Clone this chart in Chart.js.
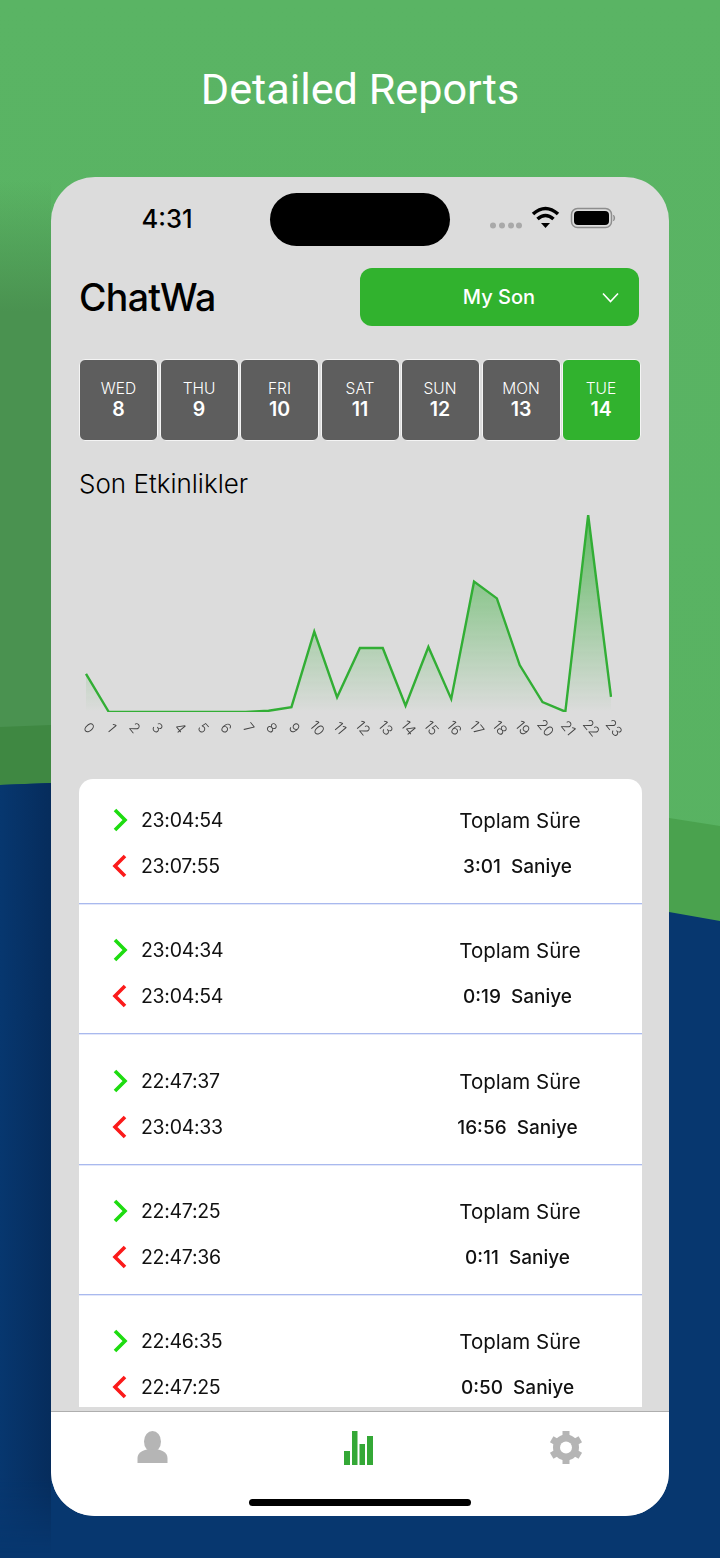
<!DOCTYPE html>
<html>
<head>
<meta charset="utf-8">
<script src="https://cdn.jsdelivr.net/npm/chart.js@4"></script>
<style>
  html, body { margin: 0; padding: 0; width: 720px; height: 1558px; overflow: hidden; background: #07376f; }
  #page { position: relative; width: 720px; height: 1558px; overflow: hidden; font-family: Inter, sans-serif; }
  #page > svg { position: absolute; left: 0; top: 0; }
  .txt { position: absolute; white-space: pre; line-height: 1; }
  .mid { transform: translate(-50%, -50%); }
  .left { transform: translateY(-50%); }
  #title { left: 360px; top: 89px; font: 400 43.2px Roboto, sans-serif; color: #fff; }
  #phone { position: absolute; left: 51px; top: 177px; width: 618px; height: 1339px; background: #dcdcdc; border-radius: 44px; overflow: hidden; }
  #notch { position: absolute; left: 270px; top: 193px; width: 180px; height: 53px; background: #000; border-radius: 27px; }
  #picker { position: absolute; left: 360px; top: 268px; width: 279px; height: 58px; background: #31b22e; border-radius: 12px; }
  .day { position: absolute; top: 359px; height: 80px; background: #5e5e5e; border: 1px solid #f4f4f4; border-radius: 6px; }
  .day.on { background: #31b22e; }
  #card { position: absolute; left: 79px; top: 779px; width: 563px; height: 628px; background: #fff; border-radius: 14px 14px 0 0; }
  .sep { position: absolute; left: 79px; width: 563px; height: 1px; background: #a9b9ee; box-shadow: 0 1px 0 #e2e7fa; }
  #tabs { position: absolute; left: 51px; top: 1411px; width: 618px; height: 105px; background: #fff; border-top: 1.5px solid #aeaeae; box-sizing: border-box; border-radius: 0 0 44px 44px; }
  #home { position: absolute; left: 249px; top: 1499px; width: 222px; height: 7px; background: #000; border-radius: 4px; }
  #chartBox { position: absolute; left: 60px; top: 500px; width: 580px; height: 250px; }
</style>
</head>
<body>
<div id="page">
  <svg width="720" height="1558">
    <defs>
      <linearGradient id="bgGreen" x1="0" y1="0" x2="0" y2="1">
        <stop offset="0" stop-color="#5ab464"/>
        <stop offset="1" stop-color="#57b160"/>
      </linearGradient>
      <linearGradient id="shadeDown" x1="0" y1="0" x2="0" y2="1">
        <stop offset="0" stop-color="#4a9250" stop-opacity="0"/>
        <stop offset="0.24" stop-color="#4a9250" stop-opacity="1"/>
        <stop offset="1" stop-color="#4a9250" stop-opacity="1"/>
      </linearGradient>
      <linearGradient id="navyEdge" x1="0" y1="0" x2="1" y2="0">
        <stop offset="0" stop-color="#07376f"/>
        <stop offset="1" stop-color="#062c5c"/>
      </linearGradient>
      <linearGradient id="fadeOut" x1="0" y1="0" x2="0" y2="1">
        <stop offset="0" stop-color="#fff"/>
        <stop offset="0.9" stop-color="#fff"/>
        <stop offset="1" stop-color="#000"/>
      </linearGradient>
      <mask id="navyMask" maskUnits="userSpaceOnUse" x="0" y="783" width="51" height="770">
        <rect x="0" y="783" width="51" height="770" fill="url(#fadeOut)"/>
      </mask>
    </defs>
    <rect width="720" height="1558" fill="url(#bgGreen)"/>
    <rect x="0" y="180" width="51" height="550" fill="url(#shadeDown)"/>
    <polygon points="0,727 51,725 51,790 0,790" fill="#3f8842"/>
    <polygon points="669,818 720,826 720,930 669,920" fill="#4aa24e"/>
    <polygon points="0,785 51,783 669,912 720,921 720,1558 0,1558" fill="#07376f"/>
    <polygon points="0,785 51,783 51,1553 0,1553" fill="url(#navyEdge)" mask="url(#navyMask)"/>
  </svg>
  <div id="title" class="txt mid">Detailed Reports</div>
  <div id="phone"></div>
  <div id="notch"></div>
  <div class="txt mid" style="left:167px;top:219px;font-size:25.5px;font-weight:500;color:#000">4:31</div>
  <svg width="720" height="1558" style="position:absolute;left:0;top:0">
    <!-- status bar -->
    <g fill="#a9a9a9">
      <circle cx="493" cy="225.5" r="3"/><circle cx="502" cy="225.5" r="3"/><circle cx="511" cy="225.5" r="3"/><circle cx="519" cy="225.5" r="3"/>
    </g>
    <g fill="none" stroke="#000" stroke-width="3.6">
      <path d="M533 214 Q545.5 203 558 214"/>
      <path d="M537.5 219 Q545.5 212 553.5 219"/>
    </g>
    <polygon points="541,223 550,223 545.5,228" fill="#000"/>
    <rect x="571.5" y="208.5" width="40" height="19" rx="6" fill="none" stroke="#8d8d8d" stroke-width="1.5"/>
    <rect x="574" y="211" width="35" height="14" rx="4" fill="#000"/>
    <path d="M613.5 215 q2.5 3 0 6" fill="#8d8d8d" stroke="#8d8d8d"/>
  </svg>
  <div class="txt left" style="left:79px;top:298px;font-size:37.5px;font-weight:500;letter-spacing:-0.7px;color:#000">ChatWa</div>
  <div id="picker"></div>
  <div class="txt mid" style="left:499px;top:297px;font-size:20px;font-weight:500;color:#fff">My Son</div>
  <svg width="720" height="1558" style="position:absolute;left:0;top:0">
    <path d="M603 293.5 L610.5 301.5 L618 293.5" fill="none" stroke="#fff" stroke-width="1.6"/>
  </svg>
  <div id="days"></div>
  <div class="txt left" style="left:79px;top:484px;font-size:26px;font-weight:300;color:#000">Son Etkinlikler</div>
  <div id="chartBox"><canvas id="hoursChart"></canvas></div>
  <div id="card"></div>
  <div id="rows"></div>
  <div id="tabs"></div>
  <svg width="720" height="1558" style="position:absolute;left:0;top:0">
    <g fill="#b5b5b5">
      <ellipse cx="152.5" cy="1441.5" rx="8.5" ry="10.5"/>
      <path d="M137.5 1463 v-5 c0 -6 7 -9 15 -9 s15 3 15 9 v5 z"/>
    </g>
    <g fill="#34a836">
      <rect x="344" y="1451" width="6" height="14"/>
      <rect x="352" y="1431" width="5.5" height="34"/>
      <rect x="359.5" y="1444" width="5.5" height="21"/>
      <rect x="367" y="1436" width="6" height="29"/>
    </g>
    <g>
      <circle cx="566" cy="1447.5" r="9.5" fill="none" stroke="#b5b5b5" stroke-width="7"/>
      <g stroke="#b5b5b5" stroke-width="7">
        <line x1="566" y1="1431" x2="566" y2="1464"/>
        <line x1="551.7" y1="1439.2" x2="580.3" y2="1455.8"/>
        <line x1="551.7" y1="1455.8" x2="580.3" y2="1439.2"/>
      </g>
      <circle cx="566" cy="1447.5" r="6" fill="#fff"/>
    </g>
  </svg>
  <div id="home"></div>
</div>

<script>
const hours = ["0", "1", "2", "3", "4", "5", "6", "7", "8", "9", "10", "11", "12", "13", "14", "15", "16", "17", "18", "19", "20", "21", "22", "23"];
const activity = [11.6, 0, 0, 0, 0, 0, 0, 0, 0.4, 1.5, 24.5, 4.5, 19.5, 19.5, 1.9, 19.8, 4, 39.7, 34.6, 14.3, 3, 0.1, 60, 4.6];

const dayNames = ["WED", "THU", "FRI", "SAT", "SUN", "MON", "TUE"];
const dayNumbers = ["8", "9", "10", "11", "12", "13", "14"];

const startTimes = ["23:04:54", "23:04:34", "22:47:37", "22:47:25", "22:46:35"];
const endTimes = ["23:07:55", "23:04:54", "23:04:33", "22:47:36", "22:47:25"];
const durations = ["3:01  Saniye", "0:19  Saniye", "16:56  Saniye", "0:11  Saniye", "0:50  Saniye"];

function addText(parent, text, x, y, css) {
  const el = document.createElement("div");
  el.className = "txt";
  el.textContent = text;
  el.style.cssText = `left:${x}px;top:${y}px;${css}`;
  parent.appendChild(el);
  return el;
}

// Day strip
const dayLefts = [79, 159.5, 240, 320.5, 400.5, 481.5, 561.5];
const daysEl = document.getElementById("days");
dayNames.forEach((name, i) => {
  const box = document.createElement("div");
  box.className = i === 6 ? "day on" : "day";
  box.style.left = dayLefts[i] + "px";
  box.style.width = "77px";
  daysEl.appendChild(box);
  const cx = dayLefts[i] + 39.5;
  addText(daysEl, name, cx, 388.5, "font-size:15.5px;font-weight:300;color:#fff;transform:translate(-50%,-50%)");
  addText(daysEl, dayNumbers[i], cx, 410, "font-size:19.5px;font-weight:600;color:#fff;transform:translate(-50%,-50%)");
});

// List rows
const rowTops = [820, 950, 1081, 1211, 1341];
const sepTops = [903, 1033, 1164, 1294];
const rowsEl = document.getElementById("rows");
const ns = "http://www.w3.org/2000/svg";
const chevrons = document.createElementNS(ns, "svg");
chevrons.setAttribute("width", 720);
chevrons.setAttribute("height", 1558);
chevrons.style.cssText = "position:absolute;left:0;top:0";
rowsEl.appendChild(chevrons);

function addChevron(d, color) {
  const p = document.createElementNS(ns, "path");
  p.setAttribute("d", d);
  p.setAttribute("fill", "none");
  p.setAttribute("stroke", color);
  p.setAttribute("stroke-width", "3.6");
  chevrons.appendChild(p);
}

rowTops.forEach((y, i) => {
  const timeCss = "font-size:19.5px;letter-spacing:-0.3px;color:#111;transform:translateY(-50%)";
  addText(rowsEl, startTimes[i], 141, y + 0.5, timeCss);
  addText(rowsEl, endTimes[i], 141, y + 46.5, timeCss);
  addText(rowsEl, "Toplam Süre", 520, y + 0.5, "font-size:20.5px;color:#111;transform:translate(-50%,-50%)");
  addText(rowsEl, durations[i], 517.5, y + 46, "font-size:19px;font-weight:500;color:#111;transform:translate(-50%,-50%)");
  addChevron(`M115 ${y - 10} L125 ${y} L115 ${y + 10}`, "#1edc10");
  addChevron(`M125 ${y + 36} L115 ${y + 46} L125 ${y + 56}`, "#fb1a1a");
});
sepTops.forEach((y) => {
  const sep = document.createElement("div");
  sep.className = "sep";
  sep.style.top = y + "px";
  rowsEl.appendChild(sep);
});

// Activity chart
const canvas = document.getElementById("hoursChart");
canvas.width = 580;
canvas.height = 250;

new Chart(canvas, {
  type: "line",
  data: {
    labels: hours,
    datasets: [
      {
        data: activity,
        borderColor: "#32ae35",
        borderWidth: 2.4,
        tension: 0,
        pointRadius: 0,
        fill: "origin",
        backgroundColor: (ctx) => {
          const area = ctx.chart.chartArea;
          if (!area) return "rgba(50, 174, 53, 0.6)";
          const g = ctx.chart.ctx.createLinearGradient(0, area.top, 0, area.bottom);
          g.addColorStop(0, "rgba(50, 174, 53, 0.72)");
          g.addColorStop(1, "rgba(50, 174, 53, 0)");
          return g;
        },
      },
    ],
  },
  options: {
    responsive: false,
    animation: false,
    layout: { padding: { left: 26, right: 29, top: 15, bottom: 0 } },
    plugins: { legend: { display: false }, tooltip: { enabled: false } },
    scales: {
      x: {
        offset: false,
        grid: { display: false, drawTicks: false },
        border: { display: false },
        ticks: {
          autoSkip: false,
          minRotation: -50,
          maxRotation: -50,
          padding: 11,
          labelOffset: 2.5,
          color: "#444",
          font: { family: "Inter", size: 14, weight: 300 },
        },
        afterFit: (scale) => {
          scale.height = 38;
          scale._getXAxisLabelAlignment = () => "center";
        },
      },
      y: { display: false, min: 0, max: 60 },
    },
  },
});
</script>
</body>
</html>
